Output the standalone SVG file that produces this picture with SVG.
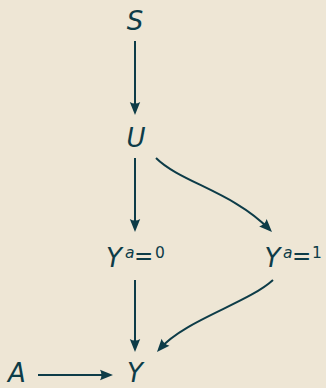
<svg xmlns="http://www.w3.org/2000/svg" width="326" height="388" viewBox="0 0 326 388">
<style>
.bg{fill:#EEE6D5}
.lbl{font-family:"DejaVu Sans",sans-serif;font-style:oblique;font-size:26px;fill:#0D3C48;text-anchor:middle}
.sup{font-family:"DejaVu Sans",sans-serif;font-size:15.5px;fill:#0D3C48}
.sup .it{font-style:oblique}
.sup .eq{font-size:23px}
.edge{fill:none;stroke:#0D3C48;stroke-width:2;marker-end:url(#ah)}
</style>
<defs>
<marker id="ah" markerUnits="userSpaceOnUse" viewBox="-14 -6 15 12" refX="-4" refY="0" markerWidth="15" markerHeight="12" orient="auto">
<path d="M0,0 L-13,-5.2 Q-10,0 -13,5.2 Z" fill="#0D3C48"/>
</marker>
</defs>
<rect class="bg" x="0" y="0" width="326" height="388"/>
<g id="edges">
<path class="edge" d="M135,41 L135,111"/>
<path class="edge" d="M135,158 L135,228"/>
<path class="edge" d="M156,158 C180,182 233,192 269.2,229.2"/>
<path class="edge" d="M135,280 L135,348"/>
<path class="edge" d="M273,280 C248,303 185,320 159.6,349"/>
<path class="edge" d="M38,375 L109,375"/>
</g>
<g id="S"><text class="lbl" x="135" y="30">S</text></g>
<g id="U"><text class="lbl" x="136" y="147">U</text></g>
<g id="Y0"><text class="lbl" x="114" y="267">Y</text><text class="sup"><tspan class="it" x="125" y="258">a</tspan><tspan class="eq" x="134" y="263.5">=</tspan><tspan x="155" y="258">0</tspan></text></g>
<g id="Y1"><text class="lbl" x="272.5" y="267">Y</text><text class="sup"><tspan class="it" x="283" y="258">a</tspan><tspan class="eq" x="292" y="263.5">=</tspan><tspan x="312" y="258">1</tspan></text></g>
<g id="A"><text class="lbl" x="17" y="382">A</text></g>
<g id="Y"><text class="lbl" x="135" y="382">Y</text></g>
</svg>
